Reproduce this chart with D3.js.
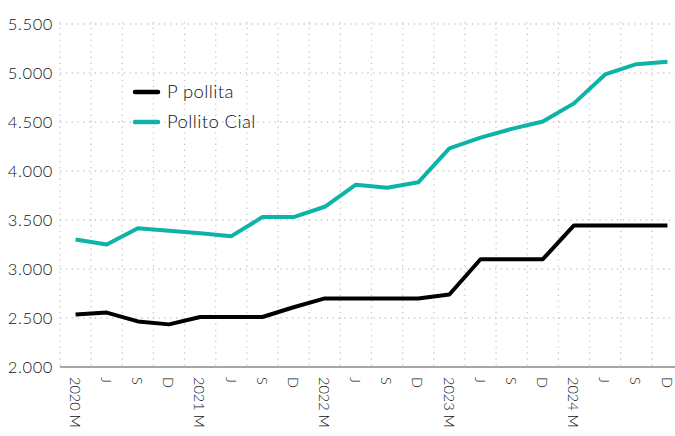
<!DOCTYPE html>
<html><head><meta charset="utf-8">
<script src="https://cdn.jsdelivr.net/npm/d3@7"></script>
<style>
html,body{margin:0;padding:0;background:#fff;}
svg text{font-family:"Lato","Open Sans",sans-serif;font-weight:300;fill:#111;}
</style></head>
<body><svg id="c" width="675" height="436"></svg>
<script>
const periods = ["2020 M","J","S","D","2021 M","J","S","D","2022 M","J","S","D","2023 M","J","S","D","2024 M","J","S","D"];
const pPollita = [2535,2555,2465,2435,2510,2510,2510,2610,2700,2700,2700,2700,2740,3100,3100,3100,3445,3445,3445,3445];
const pollitoCial = [3300,3250,3415,3390,3365,3335,3530,3530,3635,3860,3830,3885,4230,4340,4430,4505,4690,4985,5090,5115];
const yTicks = [2000,2500,3000,3500,4000,4500,5000,5500];
const seriesNames = ["P pollita","Pollito Cial"];
const seriesColors = ["#000000","#0db3a6"];

(function(){
const svg = d3.select("#c");
const mL = 60, mR = 683, mT = 24, mB = 367;
const idx = periods.map((d,i)=>i);
const x = d3.scaleBand().domain(idx).range([mL,mR]).padding(0);
const y = d3.scaleLinear().domain([2000,5500]).range([mB,mT]);

// horizontal grid
svg.append("g").selectAll("line").data(yTicks.filter(t=>t>2000)).join("line")
  .attr("x1",mL).attr("x2",675).attr("y1",d=>y(d)).attr("y2",d=>y(d))
  .attr("stroke","#c8c8c8").attr("stroke-width",1.3).attr("stroke-dasharray","1.3,4.5");
// vertical grid at band boundaries
const bounds = idx.map(i=>x(i));
svg.append("g").selectAll("line").data(bounds).join("line")
  .attr("x1",d=>d).attr("x2",d=>d).attr("y1",mT-2).attr("y2",mB)
  .attr("stroke","#c8c8c8").attr("stroke-width",1.3).attr("stroke-dasharray","1.3,4.5");

// y labels
svg.append("g").selectAll("text").data(yTicks).join("text")
  .attr("x",53).attr("y",d=>y(d)).attr("dy","0.35em").attr("text-anchor","end")
  .style("font-size","16.5px").style("letter-spacing","0.6px").text(d=>d3.format(",")(d).replace(",","."));

// bottom axis line
svg.append("line").attr("x1",mL).attr("x2",675).attr("y1",mB).attr("y2",mB)
  .attr("stroke","#888").attr("stroke-width",1.5);

// x labels
svg.append("g").selectAll("text").data(idx).join("text")
  .attr("transform",i=>`translate(${x(i)+x.bandwidth()/2 - 1},377) rotate(90)`)
  .attr("dy","0.33em").attr("text-anchor","start")
  .style("font-size","14.5px").text(i=>periods[i]);

// lines
const line = d3.line().x((d,i)=>x(i)+x.bandwidth()/2).y(d=>y(d));
[pPollita,pollitoCial].forEach((s,k)=>{
  svg.append("path").datum(s).attr("d",line).attr("fill","none")
    .attr("stroke",seriesColors[k]).attr("stroke-width",4).attr("stroke-linejoin","round");
});

// legend
const lg = svg.append("g");
seriesNames.forEach((n,k)=>{
  const yy = 92 + k*30;
  lg.append("line").attr("x1",135).attr("x2",158).attr("y1",yy).attr("y2",yy)
    .attr("stroke",seriesColors[k]).attr("stroke-width",4.5).attr("stroke-linecap","round");
  lg.append("text").attr("x",167).attr("y",yy).attr("dy","0.35em")
    .style("font-size","18.5px").style("letter-spacing","0.4px").text(n);
});
})();
</script></body></html>
